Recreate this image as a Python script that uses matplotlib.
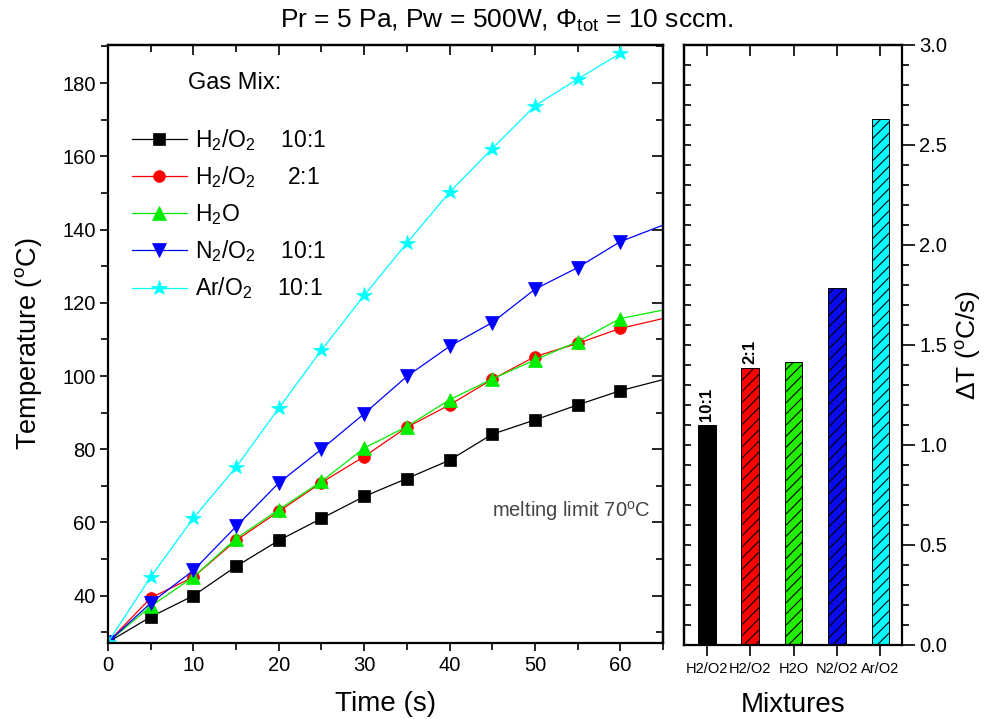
import numpy as np
import matplotlib
matplotlib.use("Agg")
import matplotlib.pyplot as plt
from matplotlib.ticker import MultipleLocator, FormatStrFormatter

plt.rcParams['font.family'] = ['Liberation Sans', 'DejaVu Sans']
plt.rcParams['mathtext.fontset'] = 'custom'
plt.rcParams['mathtext.rm'] = 'Liberation Sans'
plt.rcParams['mathtext.it'] = 'Liberation Sans:italic'
plt.rcParams['mathtext.bf'] = 'Liberation Sans:bold'
plt.rcParams['hatch.linewidth'] = 0.8

# ---- data ----
time_s = [0, 5, 10, 15, 20, 25, 30, 35, 40, 45, 50, 55, 60, 70]
T_h2o2_10 = [27.3, 34.2, 40.0, 48.0, 55.1, 61.1, 67.1, 72.0, 77.0, 84.1, 88.0, 92.1, 96.0, 102.0]
T_h2o2_2 = [27.3, 39.4, 45.1, 55.1, 63.0, 70.9, 78.0, 86.0, 92.1, 99.1, 105.3, 108.9, 113.0, 118.4]
T_h2o = [27.3, 37.1, 45.1, 55.6, 63.5, 71.2, 80.3, 86.2, 93.5, 99.2, 104.4, 109.4, 115.7, 120.3]
T_n2o2 = [27.3, 38.0, 46.9, 58.9, 70.8, 80.0, 89.7, 99.9, 108.1, 114.6, 123.7, 129.6, 136.7, 145.7]
T_aro2 = [27.3, 45.1, 61.2, 75.1, 91.2, 107.1, 122.0, 136.3, 150.2, 162.1, 173.8, 181.1, 188.1, np.nan]

series_labels = ["H$_2$/O$_2$    10:1", "H$_2$/O$_2$     2:1", "H$_2$O",
                 "N$_2$/O$_2$    10:1", "Ar/O$_2$    10:1"]
series_colors = ['black', 'red', '#00ee00', 'blue', 'cyan']
series_markers = ['s', 'o', '^', 'v', '*']
series_msize = [8, 8.5, 9.5, 9.5, 11.5]

mixtures = ["H2/O2", "H2/O2", "H2O", "N2/O2", "Ar/O2"]
rate = [1.10, 1.385, 1.417, 1.785, 2.63]
bar_colors = ['black', '#ff0000', '#22ee00', '#0a0aee', '#00ffff']
bar_hatches = [None, '///', '///', '///', '///']
bar_notes = ["10:1", "2:1", "", "", ""]

W, H = 998, 719
fig = plt.figure(figsize=(W / 100, H / 100), dpi=100)

TICK_FS = 14.5

# ---- left panel ----
ax1 = fig.add_axes([108 / W, (H - 643.3) / H, 555 / W, (643.3 - 45) / H])
series = [T_h2o2_10, T_h2o2_2, T_h2o, T_n2o2, T_aro2]
handles = []
for vals, lab, c, m, ms in zip(series, series_labels, series_colors, series_markers, series_msize):
    h, = ax1.plot(time_s, vals, color=c, marker=m, markersize=ms, lw=0.9,
                  markeredgewidth=0.5, markeredgecolor=c, label=lab)
    handles.append(h)
ax1.set_xlim(0, 65)
ax1.set_ylim(27, 190.4)
ax1.xaxis.set_major_locator(MultipleLocator(10))
ax1.xaxis.set_minor_locator(MultipleLocator(5))
ax1.yaxis.set_major_locator(MultipleLocator(20))
ax1.yaxis.set_minor_locator(MultipleLocator(10))
ax1.tick_params(which='both', direction='out', labelsize=TICK_FS, width=1.2, top=False, right=False)
ax1.tick_params(which='major', length=5.5)
ax1.tick_params(which='minor', length=5)
for s in ax1.spines.values():
    s.set_linewidth(1.6)

top1 = ax1.secondary_xaxis('top')
top1.xaxis.set_major_locator(MultipleLocator(10))
top1.xaxis.set_minor_locator(MultipleLocator(5))
top1.tick_params(which='both', direction='in', labeltop=False, width=1.2)
top1.tick_params(which='major', length=7.5)
top1.tick_params(which='minor', length=5)
top1.spines['top'].set_linewidth(1.6)

right1 = ax1.secondary_yaxis('right')
right1.yaxis.set_major_locator(MultipleLocator(20))
right1.yaxis.set_minor_locator(MultipleLocator(10))
right1.tick_params(which='both', direction='in', labelright=False, width=1.2)
right1.tick_params(which='major', length=8)
right1.tick_params(which='minor', length=5)
right1.spines['right'].set_linewidth(1.6)

ax1.set_xlabel("Time (s)", fontsize=20, labelpad=12)
ax1.set_ylabel("Temperature ($^\\mathrm{o}$C)", fontsize=19.5, labelpad=13)

leg = ax1.legend(handles=handles, loc='center left', bbox_to_anchor=(0.043, 0.717),
                 frameon=False, fontsize=16.5, handlelength=2.4, handletextpad=0.35,
                 labelspacing=0.5, borderpad=0, borderaxespad=0, numpoints=1)
ax1.text((188 - 108) / 555, (643.3 - 89) / (643.3 - 45), "Gas Mix:", fontsize=17,
         transform=ax1.transAxes, va='baseline', ha='left')
ax1.text((492 - 108) / 555, (643.3 - 517) / (643.3 - 45), "melting limit 70$^\\mathrm{o}$C",
         fontsize=14.5, color='#444444', transform=ax1.transAxes, va='baseline', ha='left')

# ---- right panel ----
ax2 = fig.add_axes([684 / W, (H - 645) / H, (901.7 - 684) / W, 600 / H])
xpos = np.arange(1, len(mixtures) + 1)
bars = ax2.bar(xpos, rate, width=0.41, color=bar_colors, edgecolor='black', linewidth=0.7)
for b, hch in zip(bars, bar_hatches):
    if hch:
        b.set_hatch(hch)
for xp, r, note in zip(xpos, rate, bar_notes):
    if note:
        ax2.annotate(note, (xp, r), xytext=(0, 3), textcoords='offset points',
                     rotation=90, ha='center', va='bottom', fontsize=12, fontweight='bold')
ax2.set_xlim(0.48, 5.49)
ax2.set_ylim(0, 3.0)
ax2.set_xticks(xpos)
ax2.set_xticklabels(mixtures, fontsize=10.5)
ax2.yaxis.tick_right()
ax2.yaxis.set_label_position('right')
ax2.yaxis.set_major_locator(MultipleLocator(0.5))
ax2.yaxis.set_minor_locator(MultipleLocator(0.1))
ax2.yaxis.set_major_formatter(FormatStrFormatter('%.1f'))
ax2.tick_params(axis='y', which='both', direction='out', labelsize=TICK_FS, width=1.2, left=False)
ax2.tick_params(axis='y', which='major', length=9)
ax2.tick_params(axis='y', which='minor', length=5)
ax2.tick_params(axis='x', which='both', direction='out', length=8, width=1.2, pad=4, top=False)
for s in ax2.spines.values():
    s.set_linewidth(1.6)

top2 = ax2.secondary_xaxis('top')
top2.set_xticks(xpos)
top2.tick_params(direction='in', length=8, width=1.2, labeltop=False)
top2.spines['top'].set_linewidth(1.6)

left2 = ax2.secondary_yaxis('left')
left2.yaxis.set_major_locator(MultipleLocator(0.5))
left2.yaxis.set_minor_locator(MultipleLocator(0.1))
left2.tick_params(which='both', direction='in', length=5, width=1.2, labelleft=False)
left2.spines['left'].set_linewidth(1.6)

ax2.set_xlabel("Mixtures", fontsize=20, labelpad=12)
ax2.set_ylabel("ΔT ($^\\mathrm{o}$C/s)", fontsize=19, labelpad=5)

fig.text(507 / W, 1 - 28 / H, "Pr = 5 Pa, Pw = 500W, Φ$_\\mathrm{tot}$ = 10 sccm.",
         fontsize=19, ha='center', va='baseline')

fig.savefig("out.png", dpi=100)
